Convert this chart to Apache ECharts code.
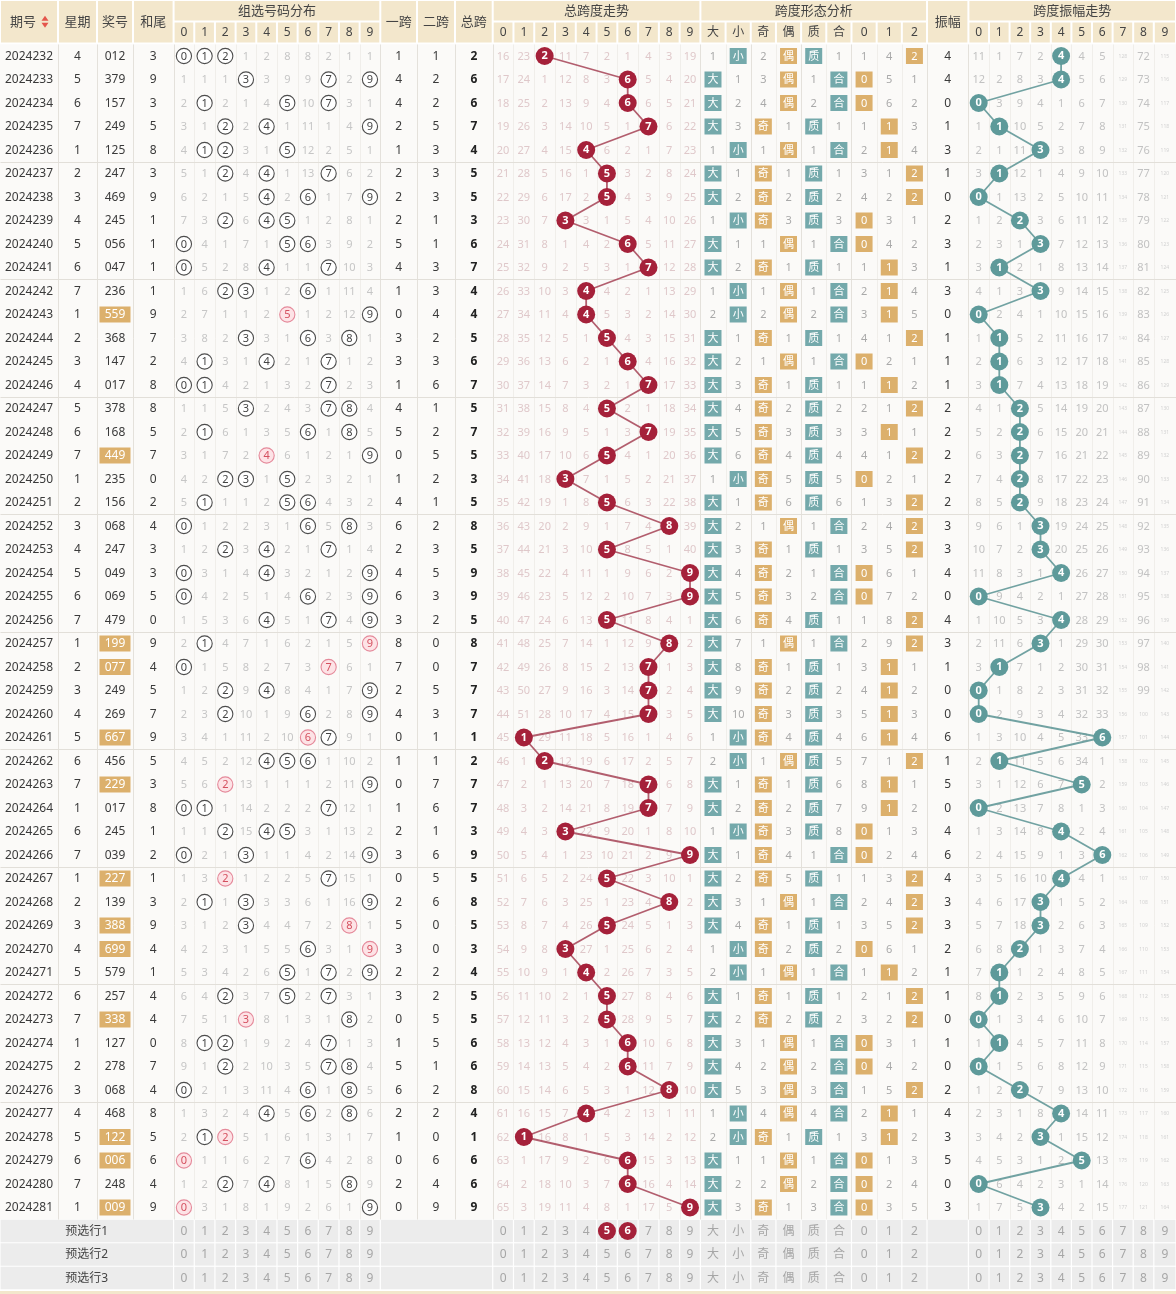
<!DOCTYPE html>
<html><head><meta charset="utf-8">
<script src="https://cdn.jsdelivr.net/npm/echarts@6/dist/echarts.min.js"></script>
<style>html,body{margin:0;padding:0;background:#fff}#c{width:1176px;height:1294px}</style>
</head><body><div id="c"></div>
<script>
// ---------------- DATA ----------------
const periods = ['2024232','2024233','2024234','2024235','2024236','2024237','2024238','2024239','2024240','2024241',
 '2024242','2024243','2024244','2024245','2024246','2024247','2024248','2024249','2024250','2024251',
 '2024252','2024253','2024254','2024255','2024256','2024257','2024258','2024259','2024260','2024261',
 '2024262','2024263','2024264','2024265','2024266','2024267','2024268','2024269','2024270','2024271',
 '2024272','2024273','2024274','2024275','2024276','2024277','2024278','2024279','2024280','2024281'];
const weekdays = [4,5,6,7,1,2,3,4,5,6, 7,1,2,3,4,5,6,7,1,2, 3,4,5,6,7,1,2,3,4,5, 6,7,1,6,7,1,2,3,4,5, 6,7,1,2,3,4,5,6,7,1];
const draws = ['012','379','157','249','125','247','469','245','056','047',
 '236','559','368','147','017','378','168','449','235','156',
 '068','247','049','069','479','199','077','249','269','667',
 '456','229','017','245','039','227','139','388','699','579',
 '257','338','127','278','068','468','122','006','248','009'];
// omission values shown in the first row (2024232); hit cells = 0
const groupMissRow1 = [0,0,0,1,2,8,8,2,1,1];
const spanMissRow1  = [16,23,0,11,7,2,1,4,3,19];
const formMissRow1  = [1,0,2,0,0,1,1,4,0];
const ampMissRow1   = [11,1,7,2,0,4,5,128,72,115]; // cols 7 & 9 are >99 (printed too small to read)
const spanBeforeRow1 = 6;
const digitLabels = ['0','1','2','3','4','5','6','7','8','9'];
const formLabels = ['大','小','奇','偶','质','合','0','1','2'];
const predRows = ['预选行1','预选行2','预选行3'];
const predSpanMarks = [5,6];   // circled in 预选行1

// ---------------- DERIVED ----------------
const N = draws.length;
const dg = draws.map(s => s.split('').map(Number));
const sumTails = dg.map(d => (d[0]+d[1]+d[2]) % 10);
const span1 = dg.map(d => Math.abs(d[0]-d[1]));
const span2 = dg.map(d => Math.abs(d[1]-d[2]));
const spans = dg.map(d => Math.max(...d) - Math.min(...d));
const amps = spans.map((s,i) => Math.abs(s - (i ? spans[i-1] : spanBeforeRow1)));
const PRIMES = [1,2,3,5,7];
const formHits = s => { const m = s % 3; const p = PRIMES.includes(s);
  return [s>=5, s<5, s%2===1, s%2===0, p, !p, m===0, m===1, m===2]; };
function missTable(first, hitFn){
  const rows = []; let prev = null;
  for (let i=0;i<N;i++){ const h = hitFn(i);
    const row = h.map((x,k) => i===0 ? first[k] : (x ? 0 : prev[k]+1));
    rows.push(row); prev = row; }
  return rows;
}
const groupMiss = missTable(groupMissRow1, i => digitLabels.map((_,k)=>dg[i].includes(k)));
const spanMiss  = missTable(spanMissRow1,  i => digitLabels.map((_,k)=>k===spans[i]));
const formMiss  = missTable(formMissRow1,  i => formHits(spans[i]));
const ampMiss   = missTable(ampMissRow1,   i => digitLabels.map((_,k)=>k===amps[i]));

// ---------------- LAYOUT ----------------
const FONT = '"Noto Sans", "Noto Sans CJK SC", sans-serif';
const HDR = '#f3e7cc', TAN = '#dcb06c', TEAL = '#74a9ab', BG = '#fbfaf8', PRED = '#ececec';
const DARK = '#3a3a3a';
const secCols = (start, step, n) => Array.from({length:n}, (_,k) => [start+k*step, start+(k+1)*step]);
const X = {
  period:[0,58], week:[58,97], num:[97,133], tail:[133,173.6],
  group: secCols(173.6,20.67,10),
  s1:[380.3,417], s2:[417,455], st:[455,492.7],
  spanTrend: secCols(492.7,20.77,10),
  form: secCols(700.4,25.18,9),
  amp:[927,968.4],
  ampTrend: secCols(968.4,20.6,10)
};
X.ampTrend[9][1] = 1176;
const span = arr => [arr[0][0], arr[arr.length-1][1]];
const mid = r => (r[0]+r[1])/2;
const py = y => (y - 56) / 23.5;           // pixel row -> row index
const HG = [py(0), py(21.5)], HD = [py(21.5), py(43.5)], HA = [py(0), py(43.5)];

const cells = [];
const cell = (x, y, o) => cells.push(Object.assign({x0:x[0], x1:x[1], y0:y[0], y1:y[1]}, o||{}));
const rules = [];
const rule = (x0,y0,x1,y1,color,w) => rules.push({x0,y0,x1,y1,color,w});

// section backgrounds
cell([0,1176], [-0.5, N-0.5], {fill:BG});

// header
const hs = {fill:HDR, inset:1, color:'#444', size:13};
cell(X.period, HA, Object.assign({}, hs, {text:'期号', dx:-6, sort:true}));
cell(X.week, HA, Object.assign({}, hs, {text:'星期'}));
cell(X.num, HA, Object.assign({}, hs, {text:'奖号'}));
cell(X.tail, HA, Object.assign({}, hs, {text:'和尾'}));
cell(X.s1, HA, Object.assign({}, hs, {text:'一跨'}));
cell(X.s2, HA, Object.assign({}, hs, {text:'二跨'}));
cell(X.st, HA, Object.assign({}, hs, {text:'总跨'}));
cell(X.amp, HA, Object.assign({}, hs, {text:'振幅'}));
[['group','组选号码分布',digitLabels],['spanTrend','总跨度走势',digitLabels],['form','跨度形态分析',formLabels],['ampTrend','跨度振幅走势',digitLabels]]
 .forEach(([key,title,labs]) => {
   cell(span(X[key]), HG, Object.assign({}, hs, {text:title}));
   X[key].forEach((c,k) => cell(c, HD, Object.assign({}, hs, {text:labs[k], size:12})));
 });

// data rows
for (let i=0;i<N;i++){
  const y = [i-0.5, i+0.5];
  cell(X.period, y, {text:periods[i], color:DARK, size:12});
  cell(X.week, y, {text:weekdays[i], color:DARK, size:12});
  const isPair = new Set(dg[i]).size === 2;
  cell(X.num, y, isPair ? {text:draws[i], color:'#fff', size:12, box:TAN, bw:31, bh:16}
                        : {text:draws[i], color:DARK, size:12});
  cell(X.tail, y, {text:sumTails[i], color:DARK, size:12});
  X.group.forEach((c,k) => {
    const cnt = dg[i].filter(d => d===k).length;
    if (cnt===1) cell(c, y, {text:k, color:'#444', size:11, ring:'single'});
    else if (cnt>=2) cell(c, y, {text:k, color:'#d4505f', size:11, ring:'pair'});
    else cell(c, y, {text:groupMiss[i][k], color:'#c6c6c6', size:11});
  });
  cell(X.s1, y, {text:span1[i], color:DARK, size:12});
  cell(X.s2, y, {text:span2[i], color:DARK, size:12});
  cell(X.st, y, {text:spans[i], color:'#222', size:12, weight:'bold'});
  X.spanTrend.forEach((c,k) => { if (k!==spans[i]) cell(c, y, {text:spanMiss[i][k], color:'#dfc8ca', size:11}); });
  const fh = formHits(spans[i]);
  X.form.forEach((c,k) => {
    const teal = k<2 || k===4 || k===5;
    if (fh[k]) cell(c, y, {text:formLabels[k], color:'#fff', size:11, box: teal?TEAL:TAN, bw:17, bh:16});
    else cell(c, y, {text:formMiss[i][k], color:'#a9a9a9', size:11});
  });
  cell(X.amp, y, {text:amps[i], color:DARK, size:12});
  X.ampTrend.forEach((c,k) => {
    if (k===amps[i]) return;
    const v = ampMiss[i][k];
    cell(c, y, {text:v, color: v>=100 ? '#d2d2d2' : '#c2c2c2', size: v>=100 ? 5 : 11});
  });
}

// prediction rows
predRows.forEach((name, j) => {
  const r = N + j, y = [r-0.5, r+0.5];
  const ps = {fill:PRED, inset:0.6, color:'#a6a6a6', size:12};
  cell([0, X.tail[1]], y, Object.assign({}, ps, {text:name, color:'#444'}));
  X.group.forEach((c,k) => cell(c, y, Object.assign({}, ps, {text:digitLabels[k]})));
  cell([X.s1[0], X.st[1]], y, ps);
  X.spanTrend.forEach((c,k) => cell(c, y, Object.assign({}, ps, {text:(j===0 && predSpanMarks.includes(k)) ? '' : digitLabels[k]})));
  X.form.forEach((c,k) => cell(c, y, Object.assign({}, ps, {text:formLabels[k]})));
  cell(X.amp, y, ps);
  X.ampTrend.forEach((c,k) => cell(c, y, Object.assign({}, ps, {text:digitLabels[k]})));
});
cell([0,1176], [py(1291), py(1294)], {fill:HDR});

// rules
const yTop = -0.5, yBot = N - 0.5;
[X.period[1], X.week[1], X.num[1], X.tail[1], X.s1[0], X.s2[0], X.st[0], X.st[1], X.form[0][0], X.amp[0], X.amp[1]]
  .forEach(x => rule(x, yTop, x, yBot, '#e4e1db', 1));
[X.form[2][0], X.form[4][0], X.form[6][0]].forEach(x => rule(x, yTop, x, yBot, '#e4e1db', 1));
['group','spanTrend','ampTrend'].forEach(key => X[key].slice(1).forEach(c => rule(c[0], yTop, c[0], yBot, '#f0eeea', 1)));
[X.form[1][0], X.form[3][0], X.form[5][0], X.form[7][0], X.form[8][0]].forEach(x => rule(x, yTop, x, yBot, '#f0eeea', 1));
for (let i=4;i<N-1;i+=5) rule(0, i+0.5, 1176, i+0.5, '#e2dfd9', 1);

// ---------------- CHART ----------------
function renderCell(params, api){
  const c = cells[params.dataIndex];
  const a = api.coord([c.x0, c.y0]), b = api.coord([c.x1, c.y1]);
  const x = Math.min(a[0],b[0]), y = Math.min(a[1],b[1]);
  const w = Math.abs(b[0]-a[0]), h = Math.abs(b[1]-a[1]);
  const ins = c.inset || 0;
  const cx = x + w/2 + (c.dx||0), cy = y + h/2;
  const ch = [];
  if (c.fill) ch.push({type:'rect', shape:{x:x+ins, y:y+ins, width:w-2*ins, height:h-2*ins}, style:{fill:c.fill}});
  if (c.ring==='single') ch.push({type:'circle', shape:{cx, cy, r:7.6}, style:{fill:'#fff', stroke:'#4d4d4d', lineWidth:1.1}});
  if (c.ring==='pair') ch.push({type:'circle', shape:{cx, cy, r:7.6}, style:{fill:'#fde3e6', stroke:'#e5899a', lineWidth:1.1}});
  if (c.box) ch.push({type:'rect', shape:{x:cx-c.bw/2, y:cy-c.bh/2, width:c.bw, height:c.bh}, style:{fill:c.box}});
  if (c.sort){
    const sx = cx + 22;
    ch.push({type:'polygon', shape:{points:[[sx-3.5,cy-1],[sx+3.5,cy-1],[sx,cy-6]]}, style:{fill:'#e4564c'}});
    ch.push({type:'polygon', shape:{points:[[sx-3.5,cy+1],[sx+3.5,cy+1],[sx,cy+6]]}, style:{fill:'#e4564c'}});
  }
  if (c.text !== undefined && c.text !== null && c.text !== '')
    ch.push({type:'text', x:cx, y:cy+0.5, style:{text:String(c.text), fill:c.color||DARK, fontSize:c.size||12,
      fontWeight:c.weight||'normal', fontFamily:FONT, align:'center', verticalAlign:'middle'}});
  return {type:'group', children:ch};
}
function renderRule(params, api){
  const r = rules[params.dataIndex];
  const a = api.coord([r.x0, r.y0]), b = api.coord([r.x1, r.y1]);
  return {type:'line', shape:{x1:Math.round(a[0])+0.5, y1:Math.round(a[1])+0.5, x2:Math.round(b[0])+0.5, y2:Math.round(b[1])+0.5},
          style:{stroke:r.color, lineWidth:r.w}};
}
const spanPts = spans.map((s,i) => [mid(X.spanTrend[s]), i]);
const ampPts = amps.map((s,i) => [mid(X.ampTrend[s]), i]);
const predPts = predSpanMarks.map(k => [mid(X.spanTrend[k]), N]);

const chart = echarts.init(document.getElementById('c'), null, {renderer:'canvas'});
chart.setOption({
  animation:false,
  backgroundColor:'#ffffff',
  grid:{left:0, right:0, top:0, bottom:0},
  xAxis:{type:'value', min:0, max:1176, show:false},
  yAxis:{type:'value', min:py(0), max:py(1294), inverse:true, show:false},
  series:[
    {type:'custom', renderItem:renderCell, data:cells.map(c => [(c.x0+c.x1)/2, (c.y0+c.y1)/2]), silent:true, z:1, clip:false},
    {type:'custom', renderItem:renderRule, data:rules.map(r => [(r.x0+r.x1)/2, (r.y0+r.y1)/2]), silent:true, z:2, clip:false},
    {type:'line', data:spanPts, symbol:'circle', symbolSize:18, z:5, silent:true,
     itemStyle:{color:'#a5213a', opacity:1},
     lineStyle:{color:'rgba(160,55,75,0.8)', width:1.8},
     label:{show:true, position:'inside', formatter:p => String(spans[p.dataIndex]), color:'#fff', fontSize:11, fontWeight:'bold', fontFamily:FONT},
     emphasis:{disabled:true}},
    {type:'scatter', data:predPts, symbol:'circle', symbolSize:18, z:5, silent:true,
     itemStyle:{color:'#a5213a', opacity:1},
     label:{show:true, position:'inside', formatter:p => String(predSpanMarks[p.dataIndex]), color:'#fff', fontSize:11, fontWeight:'bold', fontFamily:FONT},
     emphasis:{disabled:true}},
    {type:'line', data:ampPts, symbol:'circle', symbolSize:18, z:5, silent:true,
     itemStyle:{color:'#5e9a9a', opacity:1},
     lineStyle:{color:'rgba(98,152,152,0.9)', width:1.8},
     label:{show:true, position:'inside', formatter:p => String(amps[p.dataIndex]), color:'#fff', fontSize:11, fontWeight:'bold', fontFamily:FONT},
     emphasis:{disabled:true}}
  ]
});
</script></body></html>
